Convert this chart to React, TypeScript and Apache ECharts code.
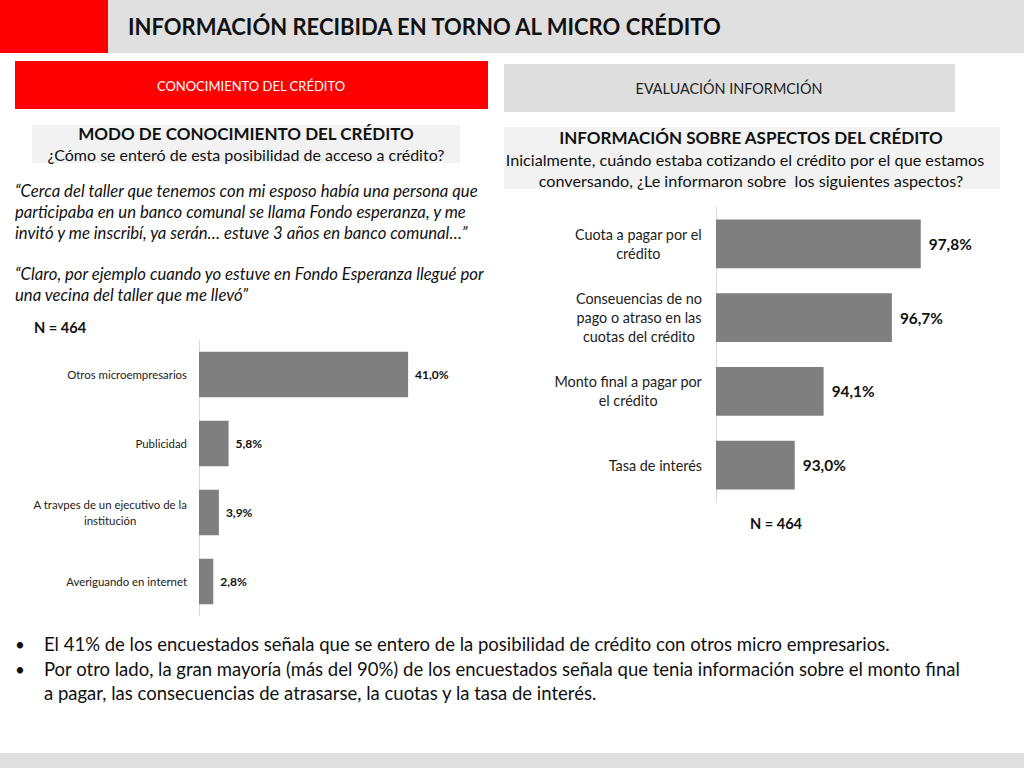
import React, { useEffect, useRef } from "react";
import * as echarts from "echarts";

const leftCategories = [
  "Otros microempresarios",
  "Publicidad",
  "A travpes de un ejecutivo de la\ninstitución",
  "Averiguando en internet",
];
const leftValues = [41.0, 5.8, 3.9, 2.8];

const rightCategories = [
  "Cuota a pagar por el\ncrédito",
  "Conseuencias de no\npago o atraso en las\ncuotas del crédito",
  "Monto final a pagar por\nel crédito",
  "Tasa de interés",
];
const rightValues = [97.8, 96.7, 94.1, 93.0];

const quoteLines = [
  "“Cerca del taller que tenemos con mi esposo había una persona que",
  "participaba en un banco comunal se llama Fondo esperanza, y me",
  "invitó y me inscribí, ya serán… estuve 3 años en banco comunal…”",
  "",
  "“Claro, por ejemplo cuando yo estuve en Fondo Esperanza llegué por",
  "una vecina del taller que me llevó”",
];

const bulletLines = [
  "El 41% de los encuestados señala que se entero de la posibilidad de crédito con otros micro empresarios.",
  "Por otro lado, la gran mayoría (más del 90%) de los encuestados señala que tenia información sobre el monto final",
  "a pagar, las consecuencias de atrasarse, la cuotas y la tasa de interés.",
];

const FONT = "Lato, 'Open Sans', sans-serif";
const fmt = (v: number) => v.toFixed(1).replace(".", ",") + "%";
const centerLines = (v: string) => v.split("\n").map((l) => `{c|${l}}`).join("\n");

export default function App() {
  const ref = useRef<HTMLDivElement>(null);
  useEffect(() => {
    if (!ref.current) return;
    const chart = echarts.init(ref.current, null, { renderer: "svg" });

    const txt = (x: number, y: number, text: string, font: string, fill = "#111", align = "left") => ({
      type: "text",
      style: { x, y, text, font, fill, textAlign: align, textVerticalAlign: "middle" },
      z: 10,
    });

    const graphics: any[] = [
      { type: "rect", shape: { x: 0, y: 0, width: 108, height: 53 }, style: { fill: "#ff0000" } },
      { type: "rect", shape: { x: 108, y: 0, width: 916, height: 53 }, style: { fill: "#e0e0e0" } },
      txt(128, 26, "INFORMACIÓN RECIBIDA EN TORNO AL MICRO CRÉDITO", `bold 22px ${FONT}`, "#111"),
      { type: "rect", shape: { x: 15, y: 61, width: 473, height: 48 }, style: { fill: "#ff0000" } },
      txt(251, 86, "CONOCIMIENTO DEL CRÉDITO", `13px ${FONT}`, "#fff", "center"),
      { type: "rect", shape: { x: 504, y: 64, width: 451, height: 48 }, style: { fill: "#dedede" } },
      txt(729, 88, "EVALUACIÓN INFORMCIÓN", `14.4px ${FONT}`, "#222", "center"),
      { type: "rect", shape: { x: 32, y: 125, width: 428, height: 38 }, style: { fill: "#f2f2f2" } },
      txt(246, 133, "MODO DE CONOCIMIENTO DEL CRÉDITO", `bold 17px ${FONT}`, "#111", "center"),
      txt(246, 154, "¿Cómo se enteró de esta posibilidad de acceso a crédito?", `16px ${FONT}`, "#111", "center"),
      { type: "rect", shape: { x: 504, y: 127, width: 496, height: 62 }, style: { fill: "#f2f2f2" } },
      txt(751, 137, "INFORMACIÓN SOBRE ASPECTOS DEL CRÉDITO", `bold 17px ${FONT}`, "#111", "center"),
      txt(745, 159, "Inicialmente, cuándo estaba cotizando el crédito por el que estamos", `16.2px ${FONT}`, "#111", "center"),
      txt(751, 180, "conversando, ¿Le informaron sobre  los siguientes aspectos?", `16.2px ${FONT}`, "#111", "center"),
      txt(34, 327, "N = 464", `bold 14.6px ${FONT}`, "#111"),
      txt(776, 523, "N = 464", `bold 14.6px ${FONT}`, "#111", "center"),
      { type: "rect", shape: { x: 0, y: 753, width: 1024, height: 15 }, style: { fill: "#e0e0e0" } },
    ];
    const qy = [191, 212, 233, 254, 274, 295];
    quoteLines.forEach((l, i) => {
      if (l) graphics.push(txt(15, qy[i], l, `italic 16.7px ${FONT}`, "#111"));
    });
    const by = [644, 669, 693];
    bulletLines.forEach((l, i) => {
      if (i !== 2) graphics.push(txt(15, by[i], "•", `17px ${FONT}`, "#111"));
      graphics.push(txt(44, by[i], l, `18.5px ${FONT}`, "#111"));
    });

    chart.setOption({
      animation: false,
      textStyle: { fontFamily: FONT },
      grid: [
        { left: 199, top: 340, width: 255, height: 276, containLabel: false },
        { left: 716, top: 207, width: 262.5, height: 295, containLabel: false },
      ],
      xAxis: [
        { gridIndex: 0, type: "value", min: 0, max: 50, show: false, splitLine: { show: false } },
        { gridIndex: 1, type: "value", min: 90, max: 100, show: false, splitLine: { show: false } },
      ],
      yAxis: [
        {
          gridIndex: 0,
          type: "category",
          inverse: true,
          data: leftCategories,
          axisLine: { show: true, lineStyle: { color: "#d9d9d9", width: 1 } },
          axisTick: { show: false },
          axisLabel: {
            margin: 12,
            align: "right",
            formatter: centerLines,
            rich: { c: { align: "center", fontSize: 11.4, lineHeight: 16, color: "#222" } },
          },
        },
        {
          gridIndex: 1,
          type: "category",
          inverse: true,
          data: rightCategories,
          axisLine: { show: true, lineStyle: { color: "#d9d9d9", width: 1 } },
          axisTick: { show: false },
          axisLabel: {
            margin: 14,
            align: "right",
            formatter: centerLines,
            rich: { c: { align: "center", fontSize: 14.4, lineHeight: 19, color: "#222" } },
          },
        },
      ],
      series: [
        {
          type: "bar",
          xAxisIndex: 0,
          yAxisIndex: 0,
          data: leftValues,
          barWidth: "66%",
          itemStyle: { color: "#7f7f7f" },
          label: { show: true, position: "right", distance: 7, formatter: (p: any) => fmt(p.value), fontWeight: "bold", fontSize: 12, color: "#111" },
        },
        {
          type: "bar",
          xAxisIndex: 1,
          yAxisIndex: 1,
          data: rightValues,
          barWidth: "66%",
          itemStyle: { color: "#7f7f7f" },
          label: { show: true, position: "right", distance: 8, formatter: (p: any) => fmt(p.value), fontWeight: "bold", fontSize: 15.4, color: "#111" },
        },
      ],
      graphic: graphics,
    });
    return () => chart.dispose();
  }, []);
  return (
    <div
      ref={ref}
      style={{ position: "fixed", left: 0, top: 0, width: 1024, height: 768, background: "#fff" }}
    />
  );
}
